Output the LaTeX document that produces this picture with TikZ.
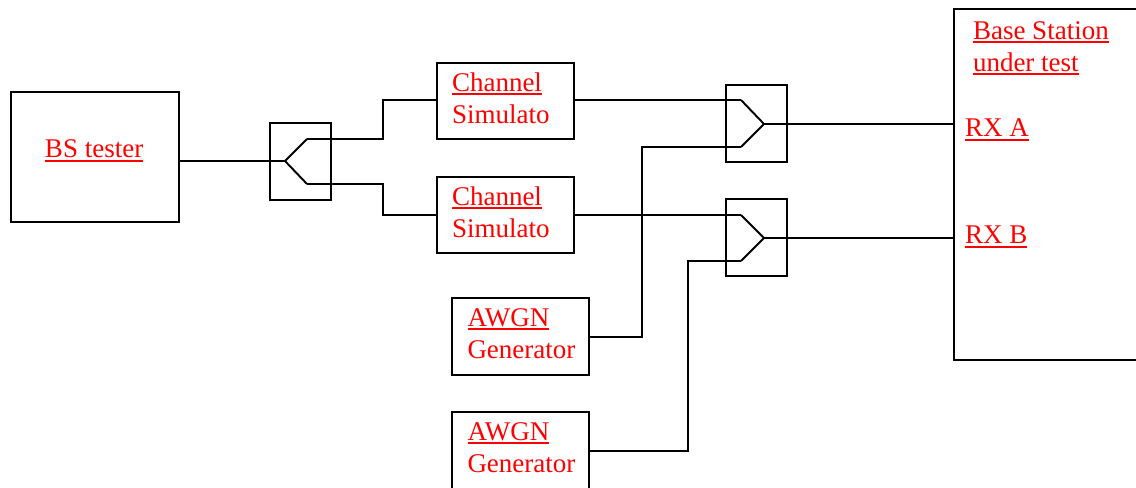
\documentclass[tikz,border=0pt]{standalone}
\usepackage{fontspec}
\setmainfont{Liberation Serif}
\usetikzlibrary{calc}
\definecolor{lblred}{RGB}{255,0,0}
\newcommand{\ulx}[1]{\leavevmode\setbox0=\hbox{#1}\rlap{\rule[-2.7pt]{\wd0}{1.5pt}}\box0}
\tikzset{
  x=0.75pt,y=-0.75pt,
  wire/.style={draw=black,line width=1.45pt,line join=miter},
  blk/.style={draw=black,line width=1.4pt,rectangle,inner sep=0pt,outer sep=0pt},
  lbl/.style={text=lblred,inner sep=0pt,outer sep=0pt,anchor=base west,align=left,
    font=\fontsize{20.25pt}{24pt}\selectfont}
}
\begin{document}
\begin{tikzpicture}
\useasboundingbox (0,0) rectangle (1136,488);
\clip (0,0) rectangle (1136,488);
% boxes
\node[blk,minimum width=126pt,minimum height=97.5pt] (bs) at (95,157) {};
\node[blk,minimum width=46pt,minimum height=57.75pt] (split) at (300.25,161.5) {};
\node[blk,minimum width=103pt,minimum height=57.5pt] (ch1) at (505.25,101) {};
\node[blk,minimum width=103pt,minimum height=57.5pt] (ch2) at (505.25,215) {};
\node[blk,minimum width=46pt,minimum height=57.5pt] (com1) at (756.75,123.75) {};
\node[blk,minimum width=46pt,minimum height=57.5pt] (com2) at (756.75,237.75) {};
\node[blk,minimum width=103pt,minimum height=57.75pt] (aw1) at (520.75,336.5) {};
\node[blk,minimum width=103pt,minimum height=57.75pt] (aw2) at (520.75,450.5) {};
\node[blk,minimum width=225pt,minimum height=263pt] (base) at (1104,184.75) {};
% internal points of splitter and combiners
\coordinate (stip) at (285,161);
\coordinate (su) at (307,139);
\coordinate (sd) at (307,184);
\coordinate (stu) at (383,139);
\coordinate (std) at (383,184);
\coordinate (c1tip) at (764,124);
\coordinate (c1u) at (741,100);
\coordinate (c1d) at (741,147);
\coordinate (c2tip) at (764,238);
\coordinate (c2u) at (741,215);
\coordinate (c2d) at (741,261);
\coordinate (v1) at (642,337);
\coordinate (v2) at (688,451);
% connectors
\draw[wire] (bs.east |- stip) -- (stip);
\draw[wire] (c1u) -- (c1tip) -- (c1d);
\draw[wire] (c2u) -- (c2tip) -- (c2d);
\draw[wire] (su) -- (stip) -- (sd);
\draw[wire] (su) -- (stu) |- (ch1.west |- c1u);
\draw[wire] (sd) -- (std) |- (ch2.west);
\draw[wire] (ch1.east |- c1u) -- (c1u);
\draw[wire] (ch2.east) -- (c2u);
\draw[wire] (aw1.east |- v1) -- (v1) |- (c1d);
\draw[wire] (aw2.east |- v2) -- (v2) |- (c2d);
\draw[wire] (c1tip) -- (base.west |- c1tip);
\draw[wire] (c2tip) -- (base.west |- c2tip);
% labels
\node[lbl] (tbs) at (45,158) {\ulx{BS tester}};
\node[lbl] (tch1) at (452,123.4) {\ulx{Channel}\\Simulato};
\node[lbl] (tch2) at (452,237.2) {\ulx{Channel}\\Simulato};
\node[lbl] (taw1) at (467.5,358.7) {\ulx{AWGN}\\Generator};
\node[lbl] (taw2) at (467.5,472.5) {\ulx{AWGN}\\Generator};
\node[lbl] (tbase) at (973,71.2) {\ulx{Base Station}\\\ulx{under test}};
\node[lbl] (trxa) at (965,137) {\ulx{RX A}};
\node[lbl] (trxb) at (965,244) {\ulx{RX B}};
\end{tikzpicture}
\end{document}
